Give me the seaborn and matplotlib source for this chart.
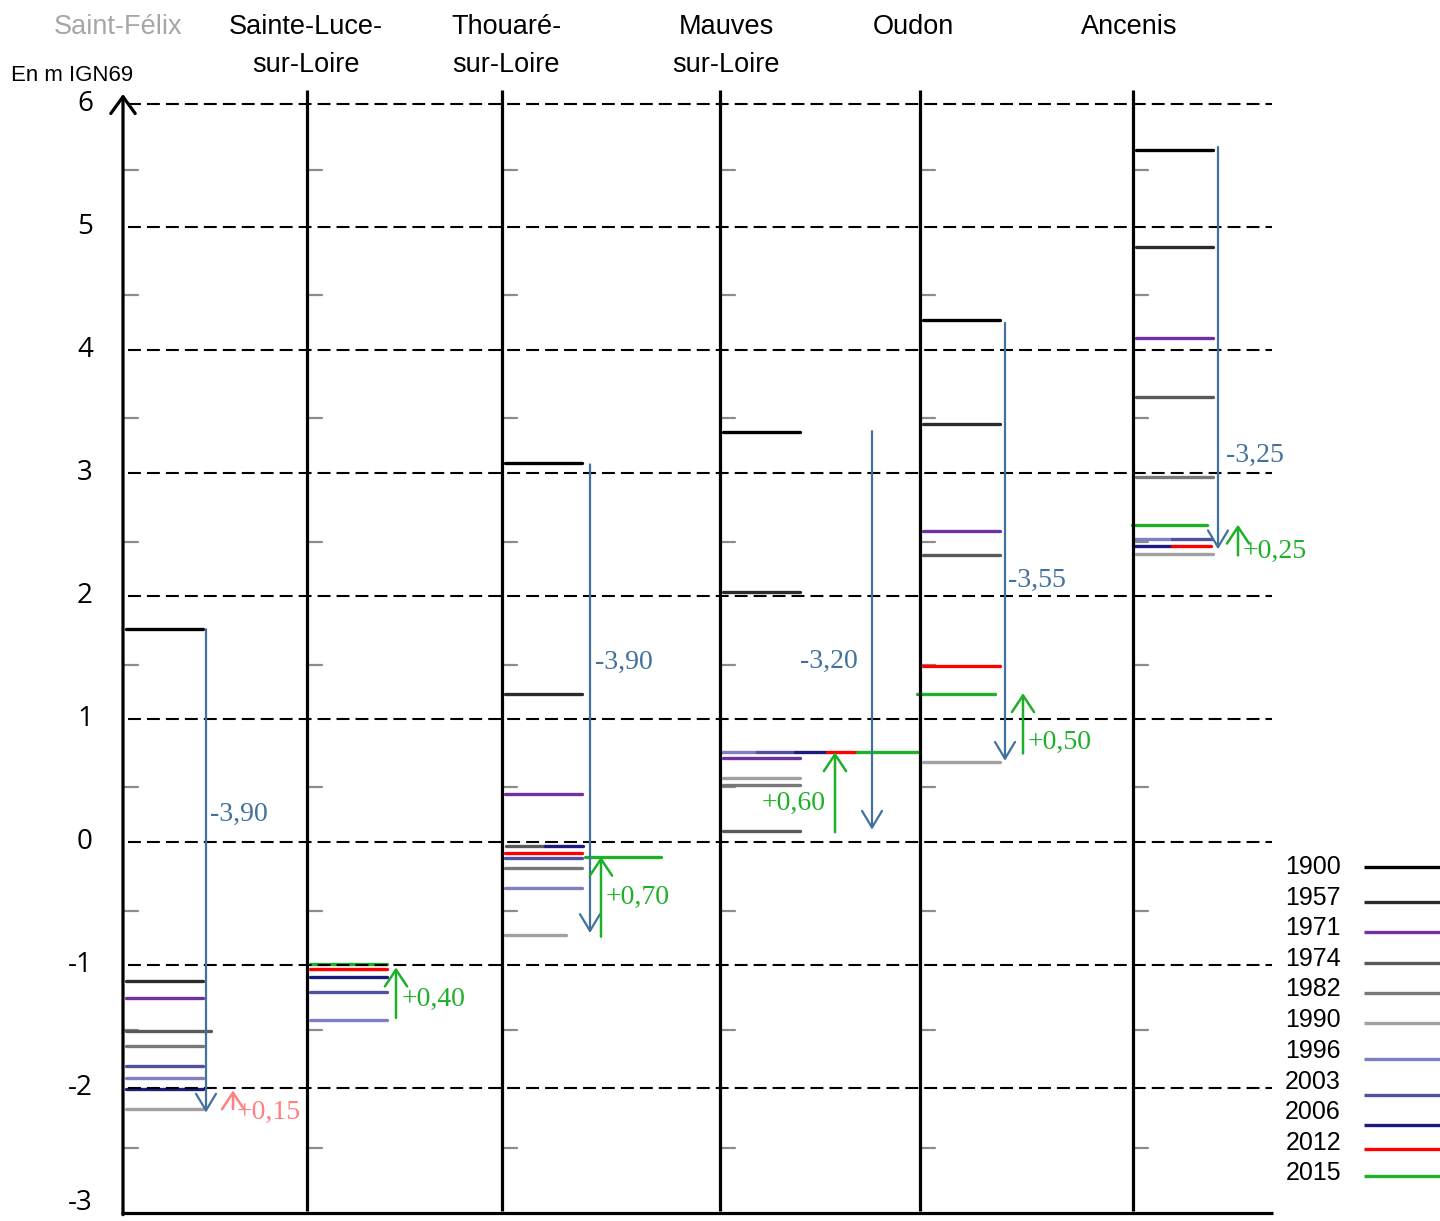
import numpy as np
import pandas as pd
import matplotlib
matplotlib.use("Agg")
import matplotlib.pyplot as plt
import seaborn as sns
from matplotlib import font_manager
from matplotlib.patches import FancyArrowPatch

# ---------------- data ----------------
years = ["1900", "1957", "1971", "1974", "1982", "1990", "1996", "2003", "2006", "2012", "2015"]
year_colors = ["#000000", "#2b2b2b", "#7030a0", "#595959", "#777777", "#a0a0a0",
               "#8080c0", "#5050a0", "#1c1c80", "#ff0000", "#1fb02a"]
station_names = [["Saint-Félix"], ["Sainte-Luce-", "sur-Loire"], ["Thouaré-", "sur-Loire"],
                 ["Mauves", "sur-Loire"], ["Oudon"], ["Ancenis"]]
nan = np.nan
saint_felix = [1.73, -1.13, -1.27, -1.54, -1.66, -2.17, -1.92, -1.82, -2.01, nan, nan]
sainte_luce = [nan, nan, nan, nan, nan, nan, -1.45, -1.22, -1.10, -1.03, -0.99]
thouare = [3.08, 1.20, 0.39, -0.03, -0.21, -0.76, -0.37, -0.13, -0.03, -0.09, -0.12]
mauves = [3.33, 2.03, 0.68, 0.09, 0.46, 0.52, 0.73, 0.73, 0.73, 0.73, 0.73]
oudon = [4.24, 3.40, 2.53, 2.33, nan, 0.65, nan, nan, nan, 1.43, 1.20]
ancenis = [5.63, 4.84, 4.10, 3.62, 2.97, 2.34, 2.46, 2.46, 2.41, 2.41, 2.58]
levels = [saint_felix, sainte_luce, thouare, mauves, oudon, ancenis]

drop_from = [1.73, nan, 3.07, 3.34, 4.22, 5.65]
drop_to = [-2.20, nan, -0.74, 0.10, 0.66, 2.38]
drop_labels = ["-3,90", "", "-3,90", "-3,20", "-3,55", "-3,25"]
rise_from = [-2.17, -1.43, -0.77, 0.08, 0.72, 2.33]
rise_to = [-2.02, -1.02, -0.12, 0.73, 1.21, 2.58]
rise_labels = ["+0,15", "+0,40", "+0,70", "+0,60", "+0,50", "+0,25"]
rise_colors = ["#ff8080", "#1fb02a", "#1fb02a", "#1fb02a", "#1fb02a", "#1fb02a"]
y_ticks = [6, 5, 4, 3, 2, 1, 0, -1, -2, -3]

# ---------------- layout (pixels) ----------------
W, H = 1440, 1221
station_x = [123, 307, 502, 720, 920, 1133]
default_span = (3, 80)
span_override = {
    (0, "1974"): (3, 88),
    (2, "1974"): (4, 43), (2, "2006"): (43, 81), (2, "1990"): (3, 64), (2, "2015"): (83, 159),
    (3, "1996"): (2, 37), (3, "2003"): (37, 75), (3, "2006"): (75, 107),
    (3, "2012"): (107, 137), (3, "2015"): (137, 198),
    (4, "2015"): (-3, 75),
    (5, "1996"): (2, 39), (5, "2003"): (39, 79), (5, "2006"): (0, 39),
    (5, "2012"): (39, 78), (5, "2015"): (-1, 74),
}
drop_x = [206, nan, 590, 872, 1005, 1218]
rise_x = [233, 396, 601, 835, 1023, 1238]
drop_label_pos = [(210, 814), None, (595, 662), (800, 661), (1008, 580), (1226, 455)]
rise_label_pos = [(237, 1112), (402, 999), (606, 897), (762, 803), (1028, 742), (1243, 551)]
minor_ticks = [5.46, 4.45, 3.45, 2.44, 1.44, 0.45, -0.56, -1.53, -2.49]
legend_text_p = [867, 898, 928, 959, 989, 1020, 1051, 1082, 1112, 1143, 1173]
legend_line_p = [867, 902, 932, 963, 993, 1023, 1059, 1095, 1125, 1149, 1176]


def v(p):
    """pixel row -> metres"""
    return (842 - p) / 123.0


sns.set_theme(style="white")
names = {f.name for f in font_manager.fontManager.ttflist}
narrow = "Liberation Sans Narrow" if "Liberation Sans Narrow" in names else "Liberation Sans"
plt.rcParams["font.family"] = ["Liberation Sans", "DejaVu Sans"]

fig = plt.figure(figsize=(W / 100, H / 100), dpi=100)
ax = fig.add_axes([0, 0, 1, 1])

# segments via seaborn
rows = []
seg = 0
for si, lv in enumerate(levels):
    for yi, yr in enumerate(years):
        val = lv[yi]
        if np.isnan(val):
            continue
        a, b = span_override.get((si, yr), default_span)
        rows.append(dict(x=station_x[si] + a, y=val, year=yr, seg=seg))
        rows.append(dict(x=station_x[si] + b, y=val, year=yr, seg=seg))
        seg += 1
df = pd.DataFrame(rows)
sns.lineplot(data=df, x="x", y="y", hue="year", units="seg", estimator=None,
             hue_order=years, palette=dict(zip(years, year_colors)),
             linewidth=2.4, legend=False, sort=False, ax=ax, zorder=2)
ax.set_xlim(0, W)
ax.set_ylim(v(H), v(0))
ax.axis("off")

# dashed grid lines
for k in y_ticks[:-1]:
    ax.plot([128, 1272], [k, k], color="black", lw=1.5, dashes=(6.2, 2.9), zorder=3)
# bottom axis
ax.plot([121, 1273], [-3.02, -3.02], color="black", lw=2.3, zorder=4, solid_capstyle="butt")
# y axis with arrow
ax.add_patch(FancyArrowPatch((123, -3.03), (123, v(94)), arrowstyle="->,head_length=0.55,head_width=0.4",
                             mutation_scale=22, lw=2.3, color="black", shrinkA=0, shrinkB=0, zorder=4))
# station vertical lines
for sx in station_x[1:]:
    ax.plot([sx, sx], [-3.0, v(90)], color="black", lw=2.3, zorder=4, solid_capstyle="butt")
# minor ticks
for sx in station_x:
    for t in minor_ticks:
        ax.plot([sx, sx + 15], [t, t], color="#8c8c8c", lw=1.6, zorder=1)

# y tick labels (lowest nudged up so it stays inside the canvas)
for k in y_ticks:
    ty = k if k > -3 else v(1203)
    ax.text(93, ty, str(k), ha="right", va="center", fontsize=20, family=["Open Sans", "DejaVu Sans"],
            color="black")

# arrows
for i in range(len(station_x)):
    if not np.isnan(drop_from[i]):
        ax.add_patch(FancyArrowPatch((drop_x[i], drop_from[i]), (drop_x[i], drop_to[i]),
                                     arrowstyle="->,head_length=0.5,head_width=0.3", mutation_scale=24,
                                     lw=1.6, color="#41719c", shrinkA=0, shrinkB=0, zorder=5))
        lx, lp = drop_label_pos[i]
        ax.text(lx, v(lp), drop_labels[i], ha="left", va="center", fontsize=20,
                family=["Liberation Serif", "DejaVu Serif"], color="#41719c", zorder=6)
    ax.add_patch(FancyArrowPatch((rise_x[i], rise_from[i]), (rise_x[i], rise_to[i]),
                                 arrowstyle="->,head_length=0.6,head_width=0.4", mutation_scale=20,
                                 lw=1.8, color=rise_colors[i], shrinkA=0, shrinkB=0, zorder=5))
    lx, lp = rise_label_pos[i]
    ax.text(lx, v(lp), rise_labels[i], ha="left", va="center", fontsize=20,
            family=["Liberation Serif", "DejaVu Serif"], color=rise_colors[i], zorder=6)

# station names
name_cx = [118, 306, 506, 726, 913, 1129]
for i, lines in enumerate(station_names):
    col = "#a6a6a6" if i == 0 else "black"
    for j, line in enumerate(lines):
        ax.text(name_cx[i], v(27 + 38 * j), line, ha="center", va="center", fontsize=19.5,
                family=[narrow, "DejaVu Sans"], color=col)
ax.text(72, v(75), "En m IGN69", ha="center", va="center", fontsize=16,
        family=[narrow, "DejaVu Sans"], color="black")

# legend
for i, yr in enumerate(years):
    ax.text(1341, v(legend_text_p[i]), yr, ha="right", va="center", fontsize=18,
            family=[narrow, "DejaVu Sans"], color="black")
    ax.plot([1364, 1440], [v(legend_line_p[i])] * 2, color=year_colors[i], lw=2.4,
            solid_capstyle="butt", zorder=4)

fig.savefig("out.png", dpi=100)
